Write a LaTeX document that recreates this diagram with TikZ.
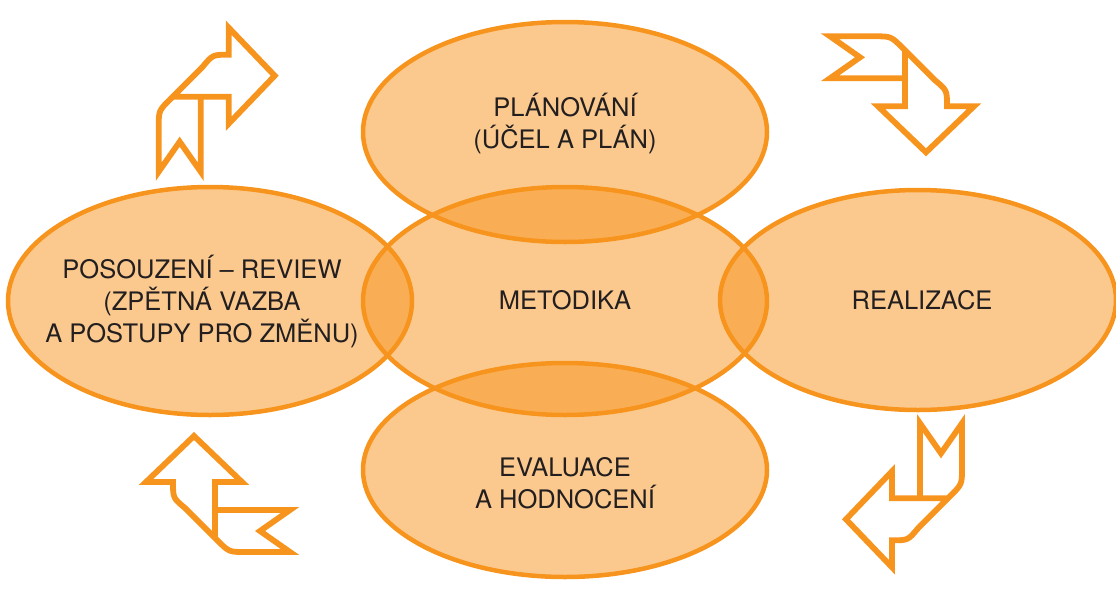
\documentclass[tikz,border=0pt]{standalone}
\usepackage{fontspec}
\setmainfont{TeX Gyre Heros}
\usetikzlibrary{shapes.geometric}
\definecolor{orangeline}{HTML}{F7941D}
\definecolor{textdark}{HTML}{231F20}
\tikzset{
  bubble/.style={ellipse, draw=orangeline, line width=4.5pt, fill=orangeline, fill opacity=0.5, draw opacity=1, inner sep=0pt},
  label text/.style={text=textdark, align=center, font=\fontsize{25.5}{32}\selectfont, inner sep=0pt},
  arrowline/.style={draw=orangeline, line width=5.8pt, line join=miter},
  ribbon/.pic={
    \draw[arrowline] (-28,0) -- (28,0) -- (28,27) -- (74,-21) -- (28,-69) -- (28,-42)
      .. controls (12,-42) .. (2,-30) -- (-30,2) .. controls (-42,14) .. (-42,30)
      -- (-42,75) -- (-21,45) -- (0,75) -- (0,-2.9);
  }
}
\begin{document}
\begin{tikzpicture}[x=1pt, y=-1pt]
\useasboundingbox (0,0) rectangle (1116,592);
% ellipses
\node[bubble, minimum width=404pt, minimum height=228pt] (posouz) at (210,301) {};
\node[bubble, minimum width=404pt, minimum height=228pt] (metod) at (565,301) {};
\node[bubble, minimum width=396pt, minimum height=220pt] (realiz) at (918,300) {};
\node[bubble, minimum width=404pt, minimum height=220pt] (plan) at (565,132) {};
\node[bubble, minimum width=404pt, minimum height=214pt] (eval) at (565,470) {};
% texts
\node[label text] (planT) at (565,124) {PLÁNOVÁNÍ\\(ÚČEL A PLÁN)};
\node[label text] (posouzT) at (202,302) {POSOUZENÍ – REVIEW\\(ZPĚTNÁ VAZBA\\A POSTUPY PRO ZMĚNU)};
\node[label text] (metodT) at (565,300) {METODIKA};
\node[label text] (realizT) at (922,300) {REALIZACE};
\node[label text] (evalT) at (565,483) {EVALUACE\\A HODNOCENÍ};
% ribbon arrows
\begin{scope}[shift={(200.7,96.7)}, x={(1pt,0pt)}, y={(0pt,-1pt)}]
  \pic (arrowA) at (0,0) {ribbon};
\end{scope}
\begin{scope}[shift={(905,78.3)}, x={(0pt,-1pt)}, y={(-1pt,0pt)}]
  \pic (arrowB) at (0,0) {ribbon};
\end{scope}
\begin{scope}[shift={(920,498.3)}, x={(-1pt,0pt)}, y={(0pt,1pt)}]
  \pic (arrowC) at (0,0) {ribbon};
\end{scope}
\begin{scope}[shift={(215,510)}, x={(0pt,1pt)}, y={(1pt,0pt)}]
  \pic (arrowD) at (0,0) {ribbon};
\end{scope}
\end{tikzpicture}
\end{document}
